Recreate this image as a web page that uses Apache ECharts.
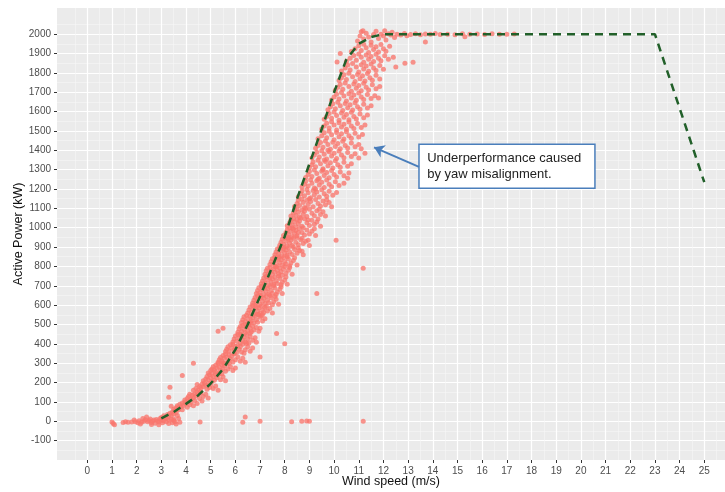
<!DOCTYPE html>
<html>
<head>
<meta charset="utf-8">
<title>Active power vs wind speed</title>
<script src="https://cdn.jsdelivr.net/npm/echarts@6/dist/echarts.min.js"></script>
<style>
  html, body { margin: 0; padding: 0; background: #fff; }
  #chart { width: 725px; height: 492px; }
</style>
</head>
<body>
<div id="chart"></div>
<script>
// axis breaks
const windTicks = [0, 1, 2, 3, 4, 5, 6, 7, 8, 9, 10, 11, 12, 13, 14, 15, 16, 17, 18, 19, 20, 21, 22, 23, 24, 25]
const windMinor = [-0.5, 0.5, 1.5, 2.5, 3.5, 4.5, 5.5, 6.5, 7.5, 8.5, 9.5, 10.5, 11.5, 12.5, 13.5, 14.5, 15.5, 16.5, 17.5, 18.5, 19.5, 20.5, 21.5, 22.5, 23.5, 24.5, 25.5]
const powerTicks = [-100, 0, 100, 200, 300, 400, 500, 600, 700, 800, 900, 1000, 1100, 1200, 1300, 1400, 1500, 1600, 1700, 1800, 1900, 2000]
const powerMinor = [-150, -50, 50, 150, 250, 350, 450, 550, 650, 750, 850, 950, 1050, 1150, 1250, 1350, 1450, 1550, 1650, 1750, 1850, 1950, 2050]

// warranted power curve (dashed)
const curveWind = [3, 3.5, 4, 4.5, 5, 5.5, 6, 6.5, 7, 7.5, 8, 8.5, 9, 9.5, 10, 10.5, 11, 11.5, 12, 23, 25]
const curvePower = [15, 48, 90, 135, 195, 270, 370, 500, 645, 800, 955, 1150, 1330, 1510, 1700, 1870, 1950, 1985, 2000, 2000, 1235]

// measured points, [wind, power]
const cutInPoints = [
  [1.0,-4],[1.05,-12],[1.1,-18],[1.45,-6],[1.55,-3],[1.65,-5],[1.8,-4],[1.95,-2],[2.05,-8],[2.1,3],
  [2.2,-5],[2.3,0],[2.35,8],[2.45,-3],[2.5,4],[2.55,12],[2.6,-6],[2.65,2],[2.7,6],[2.75,-10],
  [2.8,9],[2.85,1],[2.9,-4],[2.95,14],[3.0,5],[3.05,-8],[3.1,3],[3.15,18],[3.2,-2],[2.25,15],
  [2.4,22],[1.9,6],[2.15,-14],[2.6,-16],[2.9,-18],[3.3,-12],[3.45,-8],[3.6,-14],[3.5,4],[3.4,10]
]
const lowRampPoints = [
  [3.0,20],[3.1,28],[3.2,15],[3.25,35],[3.3,25],[3.35,42],[3.4,30],[3.45,48],[3.5,38],[3.55,55],[3.6,45],[3.65,30],[3.7,60],[3.3,5],[3.5,12],[3.7,15],[3.75,-5],[3.55,-2],
  [3.5,62],[3.6,70],[3.65,80],[3.7,68],[3.75,88],[3.8,75],[3.85,95],[3.9,82],[3.95,100],[4.0,90],[4.05,72],[4.1,105],[4.15,85],[4.2,98],[3.85,60],[4.3,80],[4.45,92],[3.4,78],
  [3.95,110],[4.05,118],[4.1,128],[4.2,115],[4.25,135],[4.3,122],[4.35,142],[4.4,130],[4.45,150],[4.5,138],[4.55,118],[4.6,146],[4.7,128],[4.8,140],[4.15,140],[4.35,108],[4.65,105],[4.9,120],
  [4.3,160],[4.4,170],[4.5,162],[4.55,180],[4.6,172],[4.65,192],[4.7,178],[4.75,198],[4.8,186],[4.85,165],[4.9,195],[4.95,175],[5.0,190],[5.1,170],[5.2,182],[4.45,190],[5.3,160],[4.6,152],
  [4.7,210],[4.8,218],[4.85,232],[4.9,215],[4.95,240],[5.0,225],[5.05,248],[5.1,232],[5.15,212],[5.2,242],[5.25,225],[5.3,238],[5.4,215],[5.5,230],[5.6,210],[4.9,250],[5.05,205],[5.35,250],[5.45,245],
  [5.0,262],[5.05,270],[5.1,282],[5.15,265],[5.2,290],[5.25,275],[5.3,298],[5.35,280],[5.4,262],[5.45,292],[5.5,272],[5.55,286],[5.6,258],[5.65,295],[5.7,270],[5.8,282],[5.9,262],[6.0,275],[5.2,255],[5.55,300],
  [5.3,305],[5.35,318],[5.4,330],[5.45,312],[5.5,340],[5.55,325],[5.6,348],[5.65,332],[5.7,310],[5.75,344],[5.8,322],[5.85,336],[5.9,306],[5.95,348],[6.0,318],[6.1,332],[6.2,310],[6.3,325],[6.4,305],[5.5,302],[5.75,300],
  [5.6,360],[5.65,372],[5.7,385],[5.75,362],[5.8,395],[5.85,378],[5.9,398],[5.95,368],[6.0,388],[6.05,355],[6.1,392],[6.15,372],[6.2,385],[6.25,358],[6.3,398],[6.4,370],[6.5,385],[6.6,362],[6.7,378],[5.95,352],[6.35,352],
  [5.9,410],[5.95,425],[6.0,440],[6.05,415],[6.1,448],[6.15,430],[6.2,405],[6.25,442],[6.3,420],[6.35,436],[6.4,410],[6.45,448],[6.5,425],[6.55,405],[6.6,438],[6.7,418],[6.8,432],[6.85,408],[6.2,450],[6.45,402],
  [6.1,460],[6.15,478],[6.2,490],[6.25,465],[6.3,495],[6.35,475],[6.4,458],[6.45,488],[6.5,470],[6.55,498],[6.6,480],[6.65,462],[6.7,492],[6.75,472],[6.85,485],[6.95,465],[7.0,480],[6.4,500],[6.6,455]
]
const midRampPoints = [
  [6.25,510],[6.3,525],[6.35,540],[6.4,515],[6.45,548],[6.5,530],[6.55,505],[6.6,542],[6.65,520],[6.7,535],[6.75,508],[6.8,546],[6.85,525],[6.9,512],[7.0,538],[7.1,518],[7.2,530],[6.5,502],[6.95,550],[7.05,545],[6.6,512],
  [6.5,560],[6.55,575],[6.6,590],[6.65,565],[6.7,598],[6.75,580],[6.8,555],[6.85,592],[6.9,570],[6.95,585],[7.0,558],[7.05,596],[7.1,575],[7.15,562],[7.2,588],[7.3,570],[7.4,582],[7.5,560],[6.8,600],[7.1,552],[7.25,594],[6.9,552],
  [6.7,610],[6.75,625],[6.8,640],[6.85,615],[6.9,648],[6.95,630],[7.0,605],[7.05,642],[7.1,620],[7.15,635],[7.2,608],[7.25,646],[7.3,625],[7.35,612],[7.45,638],[7.55,618],[7.65,630],[7.75,605],[7.0,650],[7.4,650],[7.5,602],[7.6,645],
  [6.85,660],[6.9,675],[6.95,690],[7.0,665],[7.05,698],[7.1,680],[7.15,655],[7.2,692],[7.25,670],[7.3,685],[7.35,658],[7.4,696],[7.45,675],[7.5,662],[7.6,688],[7.7,668],[7.8,682],[7.9,660],[7.15,700],[7.55,700],[7.65,655],[7.85,695],
  [7.05,710],[7.1,725],[7.15,740],[7.2,715],[7.25,748],[7.3,730],[7.35,705],[7.4,742],[7.45,720],[7.5,735],[7.55,708],[7.6,746],[7.65,725],[7.7,712],[7.8,738],[7.9,718],[8.0,730],[8.1,708],[7.35,750],[7.75,750],[7.85,705],[8.05,745],
  [7.2,760],[7.25,778],[7.3,790],[7.35,765],[7.4,795],[7.45,775],[7.5,758],[7.55,788],[7.6,770],[7.65,798],[7.7,780],[7.75,762],[7.8,792],[7.85,772],[7.95,785],[8.05,765],[8.15,780],[8.3,760],[7.6,800],[8.0,800],[8.2,795],[7.9,755],
  [7.4,810],[7.45,825],[7.5,840],[7.55,815],[7.6,848],[7.65,830],[7.7,805],[7.75,842],[7.8,820],[7.85,835],[7.9,808],[7.95,846],[8.0,825],[8.05,812],[8.15,838],[8.25,818],[8.35,830],[8.5,808],[7.75,850],[8.1,850],[8.4,845],[8.2,802],
  [7.6,860],[7.65,875],[7.7,890],[7.75,865],[7.8,898],[7.85,880],[7.9,855],[7.95,892],[8.0,870],[8.05,885],[8.1,858],[8.15,896],[8.2,875],[8.3,862],[8.4,888],[8.5,868],[8.6,882],[8.75,860],[7.95,900],[8.35,900],[8.55,895],[8.7,878],
  [7.8,910],[7.85,925],[7.9,940],[7.95,915],[8.0,948],[8.05,930],[8.1,905],[8.15,942],[8.2,920],[8.25,935],[8.3,908],[8.35,946],[8.45,925],[8.55,912],[8.65,938],[8.75,918],[8.85,930],[9.0,908],[8.15,950],[8.5,950],[8.7,945],[8.95,935],
  [7.95,960],[8.05,975],[8.1,990],[8.15,965],[8.2,998],[8.25,980],[8.3,955],[8.35,992],[8.4,970],[8.45,985],[8.5,958],[8.6,996],[8.7,975],[8.8,962],[8.9,988],[9.0,968],[9.1,982],[9.25,960],[8.3,1000],[8.75,1000],[9.2,995],[8.55,975],
  [8.1,1010],[8.2,1025],[8.25,1040],[8.3,1015],[8.35,1048],[8.4,1030],[8.45,1005],[8.5,1042],[8.55,1020],[8.6,1035],[8.7,1008],[8.8,1046],[8.9,1025],[9.0,1012],[9.1,1038],[9.2,1018],[9.3,1030],[9.45,1008],[8.65,1050],[9.35,1045],[8.95,1040],
  [8.25,1060],[8.35,1075],[8.4,1090],[8.45,1065],[8.5,1098],[8.55,1080],[8.6,1055],[8.7,1092],[8.75,1070],[8.8,1085],[8.9,1058],[9.0,1096],[9.1,1075],[9.2,1062],[9.3,1088],[9.45,1068],[9.55,1082],[9.65,1060],[8.85,1100],[9.4,1095],
  [8.4,1110],[8.5,1125],[8.55,1140],[8.6,1115],[8.7,1148],[8.75,1130],[8.8,1105],[8.9,1142],[8.95,1120],[9.05,1135],[9.15,1108],[9.25,1146],[9.35,1125],[9.45,1112],[9.55,1138],[9.65,1118],[9.8,1130],[9.9,1108],[9.0,1150],[9.7,1145],
  [8.55,1160],[8.65,1175],[8.7,1190],[8.8,1165],[8.9,1198],[8.95,1180],[9.05,1155],[9.15,1192],[9.2,1170],[9.3,1185],[9.4,1158],[9.5,1196],[9.6,1175],[9.7,1162],[9.8,1188],[9.95,1168],[10.1,1182],[9.25,1200],
  [8.7,1210],[8.8,1225],[8.85,1240],[8.95,1215],[9.05,1248],[9.1,1230],[9.2,1205],[9.3,1242],[9.4,1220],[9.5,1235],[9.6,1208],[9.7,1246],[9.8,1225],[9.9,1212],[10.05,1238],[10.2,1218],[10.4,1230],[10.55,1255],[9.35,1250]
]
const highRampPoints = [
  [8.85,1260],[8.95,1275],[9.0,1290],[9.1,1265],[9.2,1298],[9.3,1280],[9.4,1255],[9.5,1292],[9.6,1270],[9.7,1285],[9.8,1258],[9.9,1296],[10.0,1275],[10.1,1262],[10.25,1288],[10.4,1268],[10.6,1282],[9.55,1300],
  [9.0,1310],[9.1,1325],[9.15,1340],[9.25,1315],[9.35,1348],[9.45,1330],[9.55,1305],[9.65,1342],[9.75,1320],[9.85,1335],[9.95,1308],[10.05,1346],[10.15,1325],[10.25,1312],[10.4,1338],[10.55,1318],[10.7,1330],[9.6,1350],
  [9.1,1360],[9.2,1375],[9.3,1390],[9.4,1365],[9.5,1398],[9.6,1380],[9.7,1355],[9.8,1392],[9.9,1370],[10.0,1385],[10.1,1358],[10.2,1396],[10.3,1375],[10.4,1362],[10.55,1388],[10.7,1368],[10.85,1382],[11.0,1360],[9.75,1400],
  [9.25,1410],[9.35,1425],[9.45,1440],[9.55,1415],[9.65,1448],[9.75,1430],[9.85,1405],[9.95,1442],[10.05,1420],[10.15,1435],[10.25,1408],[10.35,1446],[10.45,1425],[10.55,1412],[10.7,1438],[10.85,1418],[11.0,1430],[11.1,1408],
  [9.35,1460],[9.5,1475],[9.6,1490],[9.7,1465],[9.8,1498],[9.9,1480],[10.0,1455],[10.1,1492],[10.2,1470],[10.3,1485],[10.4,1458],[10.5,1496],[10.6,1475],[10.7,1462],[10.85,1488],[11.0,1468],[11.15,1482],
  [9.5,1510],[9.6,1525],[9.7,1540],[9.8,1515],[9.9,1548],[10.0,1530],[10.1,1505],[10.2,1542],[10.3,1520],[10.4,1535],[10.5,1508],[10.6,1546],[10.7,1525],[10.8,1512],[10.95,1538],[11.1,1518],[11.25,1530],
  [9.6,1560],[9.7,1575],[9.8,1590],[9.9,1565],[10.0,1598],[10.1,1580],[10.2,1555],[10.3,1592],[10.4,1570],[10.5,1585],[10.6,1558],[10.7,1596],[10.8,1575],[10.9,1562],[11.05,1588],[11.2,1568],[11.35,1582],
  [9.75,1610],[9.85,1625],[9.95,1640],[10.05,1615],[10.15,1648],[10.25,1630],[10.35,1605],[10.45,1642],[10.55,1620],[10.65,1635],[10.75,1608],[10.85,1646],[10.95,1625],[11.05,1612],[11.2,1638],[11.35,1618],[11.5,1630],
  [9.9,1660],[10.0,1675],[10.1,1690],[10.2,1665],[10.3,1698],[10.4,1680],[10.5,1655],[10.6,1692],[10.7,1670],[10.8,1685],[10.9,1658],[11.0,1696],[11.1,1675],[11.2,1662],[11.35,1688],[11.5,1668],[11.65,1682],[11.8,1670],
  [10.05,1710],[10.15,1725],[10.25,1740],[10.35,1715],[10.45,1748],[10.6,1730],[10.7,1705],[10.8,1742],[10.9,1720],[11.0,1735],[11.1,1708],[11.2,1746],[11.3,1725],[11.4,1712],[11.55,1738],[11.7,1718],[11.85,1730],
  [10.2,1760],[10.3,1775],[10.4,1790],[10.5,1765],[10.6,1798],[10.75,1780],[10.85,1755],[10.95,1792],[11.05,1770],[11.15,1785],[11.25,1758],[11.35,1796],[11.45,1775],[11.55,1762],[11.7,1788],[11.85,1768],
  [10.3,1810],[10.45,1825],[10.55,1840],[10.65,1815],[10.75,1848],[10.9,1830],[11.0,1805],[11.1,1842],[11.2,1820],[11.3,1835],[11.4,1808],[11.5,1846],[11.6,1825],[11.7,1812],[11.85,1838],[12.0,1818],
  [10.5,1860],[10.65,1875],[10.8,1890],[10.9,1865],[11.0,1898],[11.1,1880],[11.2,1855],[11.3,1892],[11.4,1870],[11.5,1885],[11.6,1858],[11.7,1896],[11.8,1875],[11.9,1862],[12.05,1888],[12.2,1870],
  [10.7,1910],[10.85,1925],[11.0,1940],[11.1,1915],[11.2,1948],[11.3,1930],[11.4,1905],[11.5,1942],[11.6,1920],[11.7,1935],[11.8,1908],[11.9,1946],[12.0,1925],[12.1,1912],[12.25,1938],
  [10.95,1965],[11.05,1990],[11.1,2012],[11.2,1975],[11.3,2005],[11.4,1985],[11.5,1960],[11.6,1998],[11.7,2015],[11.8,1978],[11.9,2000],[12.0,1990],[12.05,2018],[12.1,1970],[12.2,2002],[12.3,1995],[12.35,2010],[12.45,1982],[12.55,2000],[12.7,1996],[12.85,2003],[12.95,1992]
]
const ratedPoints = [
  [13.1,1998],[13.3,2002],[13.5,1997],[13.7,2001],[13.9,1999],[14.1,2003],[14.3,1998],[14.6,2000],[14.9,1997],[15.2,2002],
  [15.5,1999],[15.8,2001],[16.1,1998],[16.4,2002],[16.7,2000],[17.0,1999],[17.3,2001],[13.7,1960],[15.3,1986]
]
const strayPoints = [
  [3.3,124],[3.35,176],[3.85,237],[4.3,300],[5.3,465],[5.5,480],[4.57,-4],[6.3,-5],[6.4,22],[7.0,0],
  [8.28,-3],[8.69,0],[8.89,2],[9.0,0],[11.18,0],[7.0,332],[7.67,453],[8.0,401],[9.3,660],[10.08,935],
  [11.18,790],[11.25,1385],[12.4,1880],[12.5,1830],[12.87,1850],[13.2,1855],[10.12,1856],[10.25,1900],[11.17,2017]
]

// annotation, in data units
const noteBox = [[13.44, 1431], [20.57, 1204]]
const noteArrow = [[13.44, 1314], [11.62, 1415]]
const noteText = 'Underperformance caused\nby yaw misalignment.'

const chart = echarts.init(document.getElementById('chart'))

const pointColor = '#f8766d'
const scatterSeries = (data) => ({
  type: 'scatter',
  data: data,
  symbolSize: 5,
  itemStyle: { color: pointColor, opacity: 0.78 },
  silent: true,
  z: 2,
})

const fontFamily = 'Liberation Sans, Arial, sans-serif'
const tickText = { color: '#4d4d4d', fontSize: 10, fontFamily: fontFamily, formatter: (v) => String(v) }

chart.setOption({
  animation: false,
  grid: {
    left: 57, top: 8, right: 0, bottom: 32,
    show: true, backgroundColor: '#ebebeb', borderWidth: 0,
    outerBoundsMode: 'none',
  },
  xAxis: [
    {
      type: 'value', min: -1.228, max: 25.84,
      name: 'Wind speed (m/s)', nameLocation: 'middle', nameGap: 15, nameMoveOverlap: false,
      nameTextStyle: { color: '#111', fontSize: 12.5, fontFamily: fontFamily },
      axisLine: { show: false, onZero: false },
      axisTick: { show: true, length: 3, customValues: windTicks, lineStyle: { color: '#333', width: 1 } },
      axisLabel: { customValues: windTicks, margin: 6, ...tickText },
      splitLine: { show: true, lineStyle: { color: '#ffffff', width: 1.2 } },
    },
    {
      type: 'value', min: -1.228, max: 25.84, position: 'bottom',
      axisLine: { show: false, onZero: false }, axisLabel: { show: false },
      axisTick: { show: false, customValues: windMinor },
      splitLine: { show: true, lineStyle: { color: '#f6f6f6', width: 0.6 } },
    },
  ],
  yAxis: [
    {
      type: 'value', min: -200, max: 2135,
      name: 'Active Power (kW)', nameLocation: 'middle', nameGap: 32, nameMoveOverlap: false,
      nameTextStyle: { color: '#111', fontSize: 12.5, fontFamily: fontFamily },
      axisLine: { show: false, onZero: false },
      axisTick: { show: true, length: 3, customValues: powerTicks, lineStyle: { color: '#333', width: 1 } },
      axisLabel: { customValues: powerTicks, margin: 6, ...tickText },
      splitLine: { show: true, lineStyle: { color: '#ffffff', width: 1.2 } },
    },
    {
      type: 'value', min: -200, max: 2135, position: 'left',
      axisLine: { show: false, onZero: false }, axisLabel: { show: false },
      axisTick: { show: false, customValues: powerMinor },
      splitLine: { show: true, lineStyle: { color: '#f6f6f6', width: 0.6 } },
    },
  ],
  series: [
    scatterSeries(cutInPoints),
    scatterSeries(lowRampPoints),
    scatterSeries(midRampPoints),
    scatterSeries(highRampPoints),
    scatterSeries(ratedPoints),
    scatterSeries(strayPoints),
    {
      type: 'line',
      data: curveWind.map((w, i) => [w, curvePower[i]]),
      showSymbol: false,
      silent: true,
      z: 5,
      lineStyle: { color: '#22602a', width: 2.5, type: [8, 6] },
      markArea: {
        silent: true,
        itemStyle: { color: '#ffffff', borderColor: '#4a7ebb', borderWidth: 1.5 },
        label: {
          show: true, position: 'insideLeft', distance: 9,
          formatter: noteText, color: '#222', fontSize: 13, lineHeight: 16,
          fontFamily: fontFamily,
        },
        data: [[{ coord: noteBox[0] }, { coord: noteBox[1] }]],
      },
      markLine: {
        silent: true,
        symbol: ['none', 'arrow'],
        symbolSize: 10,
        label: { show: false },
        lineStyle: { color: '#4a7ebb', width: 2, type: 'solid' },
        data: [[{ coord: noteArrow[0] }, { coord: noteArrow[1] }]],
      },
    },
  ],
})
</script>
</body>
</html>
